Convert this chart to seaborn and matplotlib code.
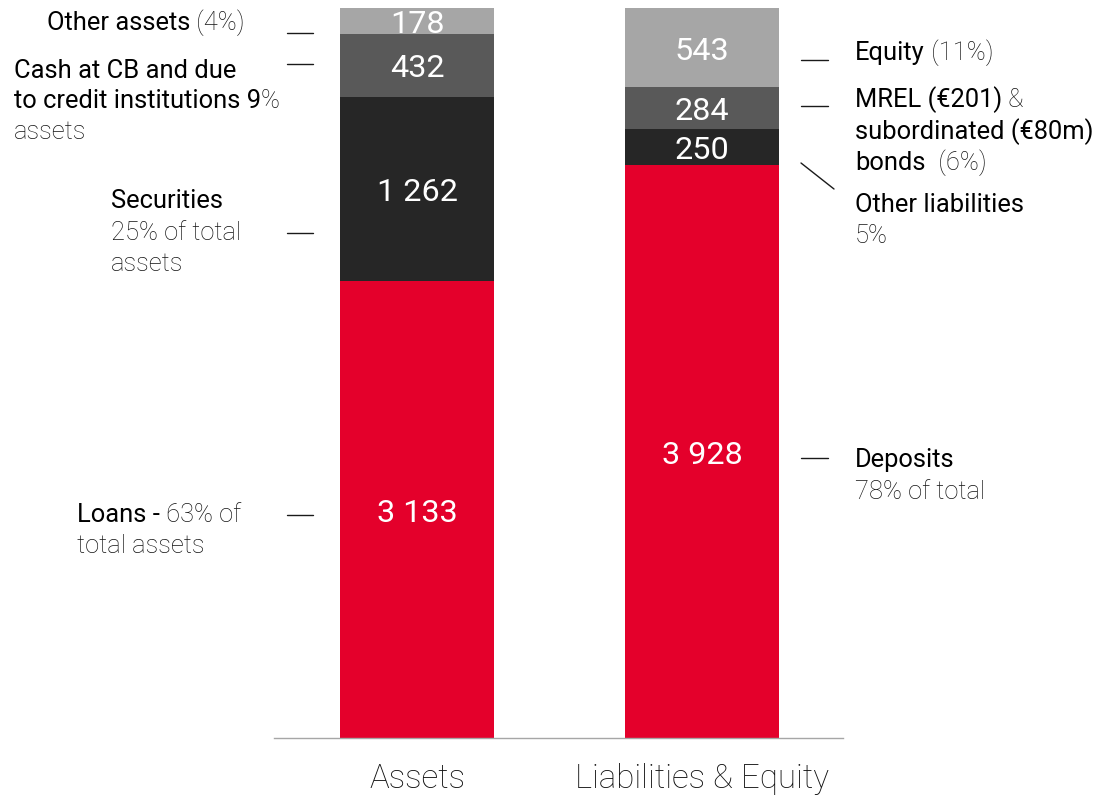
import pandas as pd
import matplotlib
matplotlib.use("Agg")
import matplotlib.pyplot as plt
import seaborn as sns
from matplotlib.lines import Line2D
from matplotlib.transforms import offset_copy

# ------------------------------------------------------------------
# data
# ------------------------------------------------------------------
SIDES = ["Assets", "Liabilities & Equity"]
# stacked bottom -> top
ASSETS = [3133, 1262, 432, 178]   # loans, securities, cash at CB, other assets
LIABS = [3928, 250, 284, 543]     # deposits, other liabilities, MREL & sub. bonds, equity
COLORS = ["#E4002B", "#262626", "#595959", "#A6A6A6"]

W, H = 1101, 795
BLACK, GREY = "#000000", "#141414"
FS = 18.4

sns.set_style("white")
plt.rcParams["font.family"] = ["Roboto", "DejaVu Sans"]

rows = []
for side, vals in zip(SIDES, [ASSETS, LIABS]):
    cum = 0
    for i, v in enumerate(vals):
        cum += v
        rows.append({"side": side, "layer": i, "value": v, "cum": cum, "mid": cum - v / 2})
df = pd.DataFrame(rows)

fig = plt.figure(figsize=(W / 100, H / 100), dpi=100)
ax = fig.add_axes([274 / W, 1 - 738 / H, (843 - 274) / W, 730 / H])

# draw cumulative bars from top layer down so the lower ones cover them
for i in reversed(range(len(COLORS))):
    sns.barplot(data=df[df["layer"] == i], x="side", y="cum", order=SIDES,
                color=COLORS[i], saturation=1, width=0.54, errorbar=None,
                linewidth=0, ax=ax)

val_tr = offset_copy(ax.transData, fig=fig, x=0, y=-3.5, units="dots")
for _, r in df.iterrows():
    ax.text(SIDES.index(r["side"]), r["mid"], f"{r['value']:,}".replace(",", " "),
            ha="center", va="center", color="white", fontsize=23.3, transform=val_tr)

ax.set_xlim(-0.502, 1.495)
ax.set_ylim(0, df["cum"].max())
ax.set_xlabel("")
ax.set_ylabel("")
ax.set_yticks([])
sns.despine(ax=ax, left=True)
ax.spines["bottom"].set_color("#A6A6A6")
ax.spines["bottom"].set_linewidth(1)
ax.tick_params(axis="x", length=0, pad=18)
for lab in ax.get_xticklabels():
    lab.set_fontsize(23.8)
    lab.set_fontweight("light")
    lab.set_color("#111111")

# ------------------------------------------------------------------
# side annotations (pixel positions, baseline)
# ------------------------------------------------------------------
renderer = fig.canvas.get_renderer()


def rich(x, baselines, lines):
    for yb, parts in zip(baselines, lines):
        dx = 0
        for txt, light in parts:
            t = fig.text(x / W, 1 - yb / H, txt, fontsize=FS,
                         fontweight="light" if light else "normal",
                         color=GREY if light else BLACK, va="baseline",
                         transform=offset_copy(fig.transFigure, fig=fig, x=dx, y=0, units="dots"))
            dx += t.get_window_extent(renderer).width


rich(47, [30], [[("Other assets", 0), (" (4%)", 1)]])
rich(14, [78, 108, 139], [[("Cash at CB and due", 0)],
                          [("to credit institutions 9", 0), ("%", 1)],
                          [("assets", 1)]])
rich(111, [208, 240, 271], [[("Securities", 0)], [("25% of total", 1)], [("assets", 1)]])
rich(77, [522, 553], [[("Loans -", 0), (" 63% of", 1)], [("total assets", 1)]])

rich(855, [60], [[("Equity", 0), (" (11%)", 1)]])
rich(855, [107, 139, 170], [[("MREL (€201)", 0), (" &", 1)],
                            [("subordinated (€80m)", 0)],
                            [("bonds", 0), ("  (6%)", 1)]])
rich(855, [212, 243], [[("Other liabilities", 0)], [("5%", 1)]])
rich(855, [467, 499], [[("Deposits", 0)], [("78% of total", 1)]])

# leader dashes
dashes = [((287, 313), (33, 33)), ((287, 313), (64, 64)), ((287, 313), (233, 233)),
          ((287, 313), (515, 515)), ((801, 828), (60, 60)), ((801, 828), (106, 106)),
          ((801, 834), (163, 189)), ((801, 828), (458, 458))]
for xs, ys in dashes:
    fig.add_artist(Line2D([x / W for x in xs], [1 - y / H for y in ys],
                          color="#1a1a1a", lw=1, transform=fig.transFigure))

fig.savefig("out.png", dpi=100)
